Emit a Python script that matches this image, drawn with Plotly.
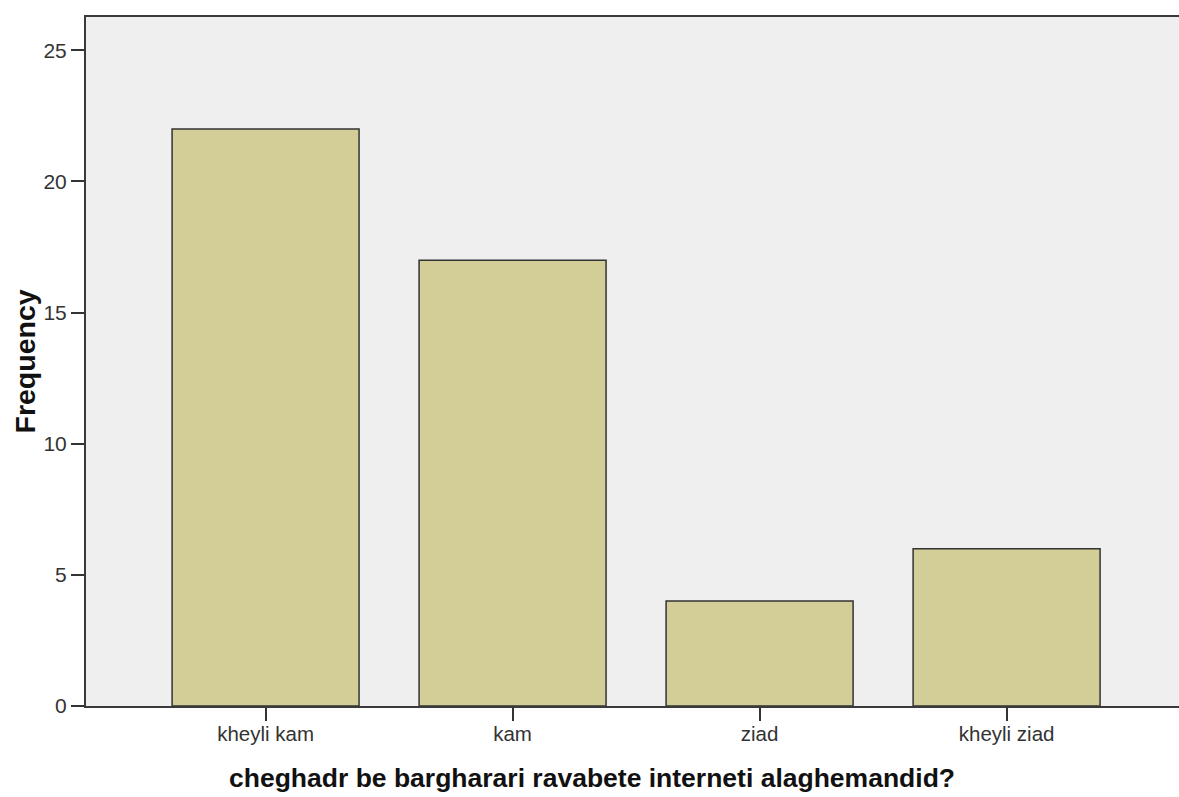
import plotly.graph_objects as go

categories = ["kheyli kam", "kam", "ziad", "kheyli ziad"]
frequency = [22, 17, 4, 6]
y_ticks = [0, 5, 10, 15, 20, 25]
x_title = "cheghadr be bargharari ravabete interneti alaghemandid?"
y_title = "Frequency"

fig = go.Figure()
fig.add_trace(go.Bar(
    x=categories, y=frequency, width=0.757,
    marker=dict(color="#d3ce97", line=dict(color="#333333", width=1.5)),
))

fig.update_layout(
    width=1179, height=797,
    margin=dict(l=86, r=0, t=17, b=91),
    paper_bgcolor="white", plot_bgcolor="#efefef",
    showlegend=False,
    font=dict(family="Liberation Sans, Arial, sans-serif", color="#222"),
)
fig.update_xaxes(
    range=[-0.727, 3.698], showgrid=False, zeroline=False,
    showline=True, linecolor="#3a3a3a", linewidth=2, mirror=True,
    ticks="outside", ticklen=13, tickcolor="#333", tickwidth=2,
    tickfont=dict(size=20.5, color="#333"), ticklabelstandoff=-5,
)
fig.update_yaxes(
    range=[0, 26.27], showgrid=False, zeroline=False,
    showline=True, linecolor="#3a3a3a", linewidth=2,
    tickvals=y_ticks, ticks="outside", ticklen=13, tickcolor="#333", tickwidth=2,
    tickfont=dict(size=21, color="#333"),
)
fig.add_annotation(
    text="<b>" + x_title + "</b>", xref="paper", yref="paper",
    x=0.463, y=-0.1045, xanchor="center", yanchor="middle", showarrow=False,
    font=dict(size=26.5, color="#111"),
)
fig.add_annotation(
    text="<b>" + y_title + "</b>", xref="paper", yref="paper", textangle=-90,
    x=-0.0567, y=0.5, xanchor="center", yanchor="middle", showarrow=False,
    font=dict(size=28.5, color="#111"),
)

fig.write_html(
    "out.html",
    config={"displayModeBar": False},
    post_script="document.body.style.margin='0';document.body.style.overflow='hidden';",
)
